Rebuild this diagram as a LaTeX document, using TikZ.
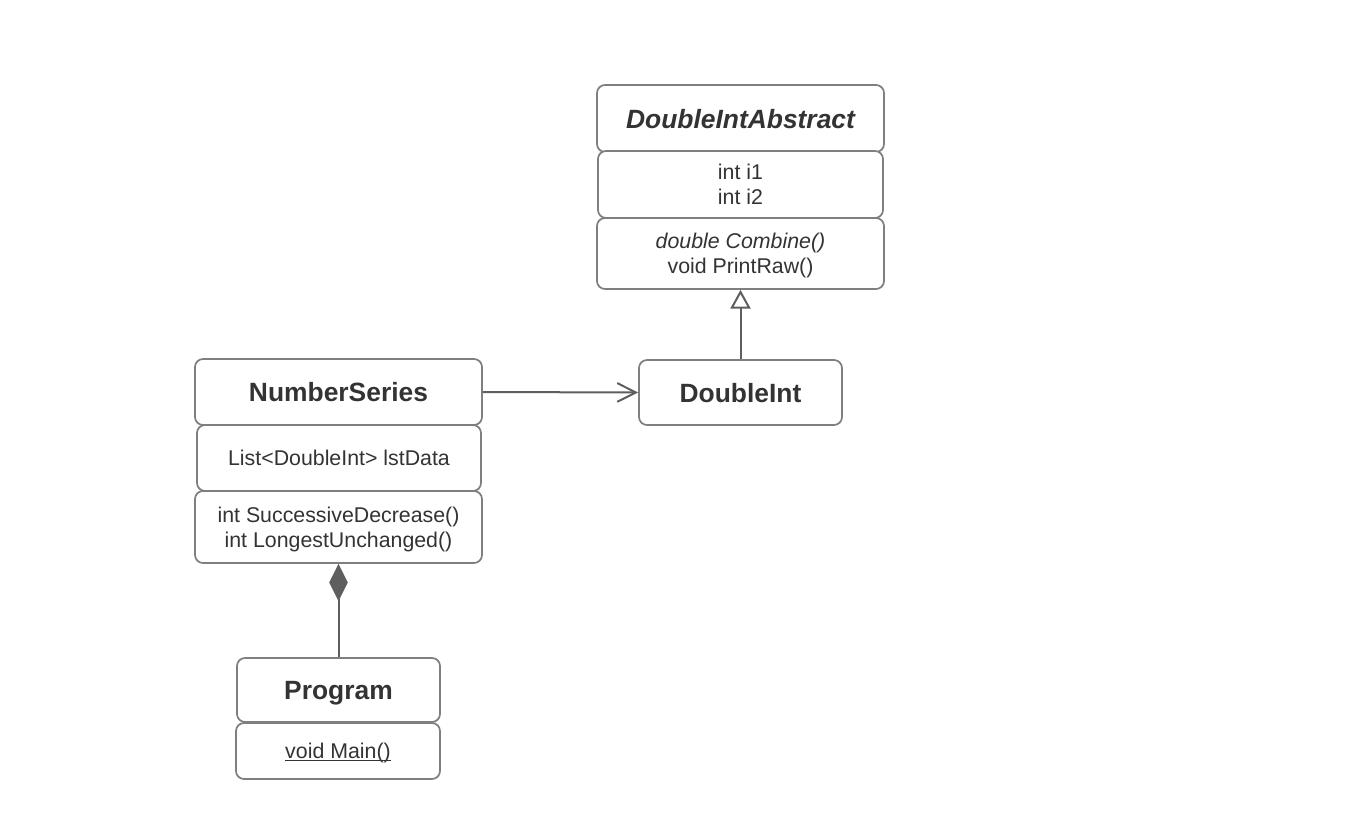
\documentclass[tikz,border=0pt]{standalone}
\usepackage{fontspec}
\setmainfont{Liberation Sans}
\usetikzlibrary{arrows.meta}
\definecolor{txt}{HTML}{333333}
\definecolor{bord}{HTML}{7F7F7F}
\definecolor{conn}{HTML}{5E5E5E}
\newcommand{\myuline}[1]{\setbox0=\hbox{#1}\leavevmode\rlap{\rule[-1.6pt]{\wd0}{1pt}}\box0}
\begin{document}
\begin{tikzpicture}[x=0.75pt,y=-0.75pt,
  umlbox/.style 2 args={draw=bord, line width=1.3pt, rounded corners=6pt, fill=white,
    minimum width=#1*0.75pt, minimum height=#2*0.75pt, inner sep=0pt, align=center,
    text depth=0pt, text=txt, font=\fontsize{16}{18.75}\selectfont},
  title/.style={font=\fontsize{19.8}{22}\selectfont\bfseries},
  conline/.style={draw=conn, line width=1.5pt}
]
\fill[white] (0,0) rectangle (1362,834);
\useasboundingbox (0,0) rectangle (1362,834);

% DoubleIntAbstract
\node[umlbox={287}{67}, title] (diah) at (740.5,118.5) {\itshape DoubleIntAbstract};
\node[umlbox={285}{67}] (diaa) at (740.5,184.5) {int i1\\int i2};
\node[umlbox={287}{71}] (diam) at (740.5,253.5) {{\itshape double Combine()}\\void PrintRaw()};

% DoubleInt
\node[umlbox={203}{65}, title] (di) at (740.5,392.5) {DoubleInt};

% NumberSeries
\node[umlbox={287}{66}, title] (nsh) at (338.5,392) {NumberSeries};
\node[umlbox={284}{66}] (nsa) at (339,458) {List<DoubleInt> lstData};
\node[umlbox={287}{72}] (nsm) at (338.5,527) {int SuccessiveDecrease()\\int LongestUnchanged()};

% Program
\node[umlbox={203}{64}, title] (prh) at (338.5,690) {Program};
\node[umlbox={204}{56}] (prm) at (338,751) {\myuline{void Main()}};

% connectors
\draw[conline, -{Triangle[open, length=14pt, width=15pt, fill=white]}] (di.north) -- (diam.south);
\draw[conline, -{Straight Barb[length=14pt, width=14pt]}] (nsh.east) -- (di.west);
\draw[conline, {Diamond[length=28pt, width=14pt, fill=conn]}-] (nsm.south -| prh.north) -- (prh.north);
\end{tikzpicture}
\end{document}
